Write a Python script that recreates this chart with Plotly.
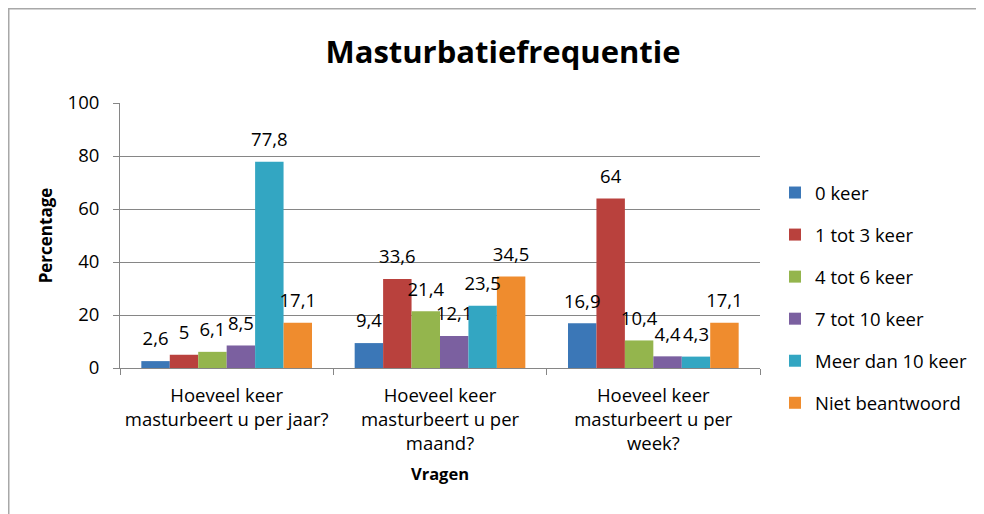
import plotly.graph_objects as go

categories = [
    "Hoeveel keer<br>masturbeert u per jaar?",
    "Hoeveel keer<br>masturbeert u per<br>maand?",
    "Hoeveel keer<br>masturbeert u per<br>week?",
]
series_names = ["0 keer", "1 tot 3 keer", "4 tot 6 keer", "7 tot 10 keer",
                "Meer dan 10 keer", "Niet beantwoord"]
v_0 = [2.6, 9.4, 16.9]
v_1_3 = [5, 33.6, 64]
v_4_6 = [6.1, 21.4, 10.4]
v_7_10 = [8.5, 12.1, 4.4]
v_meer10 = [77.8, 23.5, 4.3]
v_niet = [17.1, 34.5, 17.1]
series_values = [v_0, v_1_3, v_4_6, v_7_10, v_meer10, v_niet]
colors = ["#3B77B7", "#B9413D", "#94B54D", "#7B60A0", "#33A6C2", "#EF8C2E"]

font_family = "Open Sans, Liberation Sans, sans-serif"
FS = 18.5

fig = go.Figure()
for i, (name, vals, col) in enumerate(zip(series_names, series_values, colors)):
    fig.add_trace(go.Bar(
        x=categories, y=vals, name=name,
        marker=dict(color=col, line=dict(width=0)),
        offsetgroup=str(i), legendgroup=str(i), hoverinfo="x+y+name",
    ))
# data labels, grouped like the bars, slightly raised above each bar
for i, vals in enumerate(series_values):
    fig.add_trace(go.Scatter(
        x=categories, y=vals, mode="markers+text",
        marker=dict(size=16, opacity=0),
        texttemplate="%{y}", textposition="top center",
        textfont=dict(size=FS, color="#000000", family=font_family),
        offsetgroup=str(i), showlegend=False, hoverinfo="skip", cliponaxis=False,
    ))

# The page adds an 8px body margin; figure coordinates are page coordinates - 8.
W, H = 976, 506
L, R, T, B = 112, 224, 95, 146
pw, ph = W - L - R, H - T - B

def px_x(x):
    return (x - L) / pw

def px_y(y):
    return (H - B - y) / ph

fig.update_layout(
    width=W, height=H,
    margin=dict(l=L, r=R, t=T, b=B, autoexpand=False),
    paper_bgcolor="white", plot_bgcolor="white",
    separators=",.",
    barmode="group", bargap=0.2, bargroupgap=0,
    scattermode="group", scattergap=0.2,
    font=dict(family=font_family, size=FS, color="#000000"),
    title=dict(text="<b>Masturbatiefrequentie</b>", x=495 / W, xref="container",
               y=1 - 44 / H, yref="container", yanchor="middle", xanchor="center",
               font=dict(size=31, family=font_family, color="#000000")),
    showlegend=True,
    legend=dict(x=px_x(767), y=px_y(166), xanchor="left", yanchor="top",
                font=dict(size=FS, family=font_family), tracegroupgap=15,
                itemwidth=30, bgcolor="rgba(0,0,0,0)"),
)
fig.update_xaxes(
    type="category", tickson="boundaries", ticks="outside", ticklen=6,
    tickcolor="#868686", showline=True, linecolor="#868686", linewidth=1,
    showgrid=False, tickfont=dict(size=FS), ticklabelstandoff=11,
    title=dict(text="<b>Vragen</b>", font=dict(size=16.5), standoff=14),
)
fig.update_yaxes(
    range=[0, 100], tickvals=[0, 20, 40, 60, 80, 100], ticks="outside", ticklen=6,
    tickcolor="#868686", showline=True, linecolor="#868686", linewidth=1,
    showgrid=True, gridcolor="#868686", gridwidth=1, zeroline=False,
    tickfont=dict(size=FS), ticklabelstandoff=10,
    title=dict(text="<b>Percentage</b>", font=dict(size=17), standoff=10),
)
fig.add_shape(type="rect", xref="paper", yref="paper",
              x0=px_x(0.75), x1=px_x(971), y0=px_y(520), y1=px_y(0.75),
              line=dict(color="#A8A8A8", width=1.5), layer="below")

fig.write_html("out.html")
